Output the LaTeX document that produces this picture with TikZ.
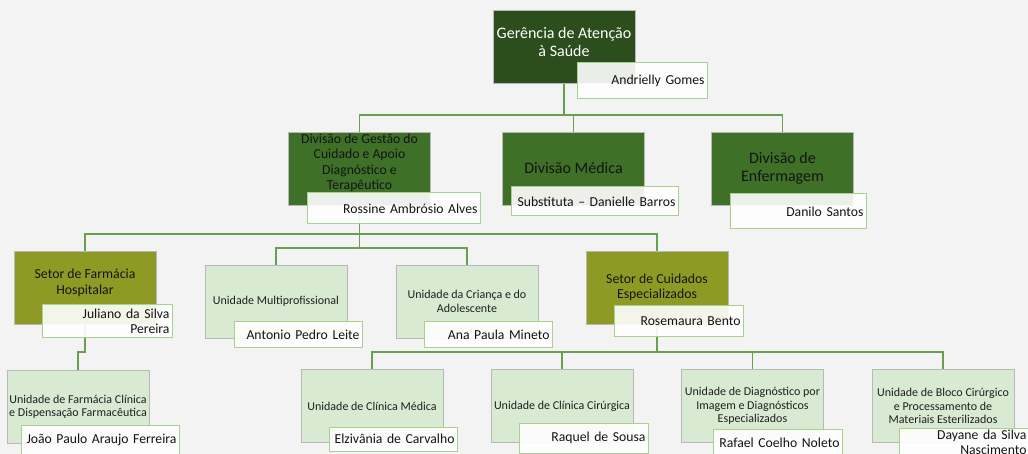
\documentclass[tikz,border=0pt]{standalone}
\usepackage{fontspec}
\setmainfont{Carlito}

\pgfdeclarelayer{background}
\pgfsetlayers{background,main}

\definecolor{bggrey}{HTML}{F3F3F3}
\definecolor{gergreen}{HTML}{2C4D1C}
\definecolor{divgreen}{HTML}{3E7028}
\definecolor{setorolive}{HTML}{8F9A25}
\definecolor{unitgreen}{HTML}{D9EAD3}
\definecolor{linegreen}{HTML}{69A050}
\definecolor{nameline}{HTML}{A9D08E}

\begin{document}
\begin{tikzpicture}[x=1pt, y=-1pt,
    orgbox/.style={draw=black!28, line width=0.7pt, minimum width=142pt,
        minimum height=73pt, inner sep=0pt, align=center},
    gerbox/.style={orgbox, fill=gergreen},
    gertext/.style={text=white, align=center, font=\fontsize{16}{18}\selectfont},
    divbox/.style={orgbox, fill=divgreen, text=black!92, font=\fontsize{16}{18}\selectfont},
    setorbox/.style={orgbox, fill=setorolive, text=black!92, font=\fontsize{13.8}{15.6}\selectfont},
    unitbox/.style={orgbox, fill=unitgreen, text=black!88, font=\fontsize{12}{13.3}\selectfont},
    namebox/.style 2 args={draw=nameline, line width=1pt, fill=white,
        fill opacity=0.9, text opacity=1, minimum width=#1, text width=#1-5,
        minimum height=#2, inner xsep=2.5pt, inner ysep=0pt, align=right,
        text=black!92, font=\fontsize{13.7}{15}\selectfont},
    conn/.style={draw=linegreen, line width=1.4pt}]

    % Background
    \begin{pgfonlayer}{background}
    \fill[bggrey] (0,0) rectangle (1028,454);
    \end{pgfonlayer}
    \useasboundingbox (0,0) rectangle (1028,454);

    % Gerencia
    \node[gerbox, label={[gertext, yshift=4.5pt]center:{Gerência de Atenção\\à Saúde}}] (ger) at (564,46.5) {};
    \node[namebox={130}{36}] (gername) at (642,81) {Andrielly Gomes};

    % Divisoes
    \node[divbox, label={[divbox, draw=none, fill=none, font=\fontsize{13.7}{15.4}\selectfont, yshift=5.5pt]center:{Divisão de Gestão do\\Cuidado e Apoio\\Diagnóstico e\\Terapêutico}}] (div1) at (359.5,168.5) {};
    \node[divbox] (med) at (573.5,168.5) {Divisão Médica};
    \node[divbox] (enf) at (782.5,168.5) {Divisão de\\Enfermagem};
    \node[namebox={173}{31}] (div1name) at (393.5,208.5) {Rossine Ambrósio Alves};
    \node[namebox={167}{29}] (medname) at (594.5,201.5) {Substituta – Danielle Barros};
    \node[namebox={136}{35}] (enfname) at (798,211.5) {Danilo Santos};

    % Setores e unidades
    \node[setorbox, label={[setorbox, draw=none, fill=none, yshift=4.5pt]center:{Setor de Farmácia\\Hospitalar}}] (farm) at (85,287.5) {};
    \node[unitbox] (multi) at (276,301.5) {Unidade Multiprofissional};
    \node[unitbox] (crian) at (467,301.5) {Unidade da Criança e do\\Adolescente};
    \node[setorbox] (cuid) at (657,287.5) {Setor de Cuidados\\Especializados};
    \node[namebox={130}{32}] (farmname) at (107,321) {Juliano da Silva\\Pereira};
    \node[namebox={128}{25}] (multiname) at (298,334.5) {Antonio Pedro Leite};
    \node[namebox={128}{25}] (crianname) at (488,334.5) {Ana Paula Mineto};
    \node[namebox={129}{30}] (cuidname) at (678.5,321) {Rosemaura Bento};

    % Unidades de baixo
    \node[unitbox] (farmclin) at (78,406.5) {Unidade de Farmácia Clínica\\e Dispensação Farmacêutica};
    \node[unitbox] (clinmed) at (372,406) {Unidade de Clínica Médica};
    \node[unitbox] (clincir) at (562,406) {Unidade de Clínica Cirúrgica};
    \node[unitbox] (diag) at (752.5,406) {Unidade de Diagnóstico por\\Imagem e Diagnósticos\\Especializados};
    \node[unitbox] (bloco) at (943,406) {Unidade de Bloco Cirúrgico\\e Processamento de\\Materiais Esterilizados};
    \node[namebox={158}{30}] (farmclinname) at (100,440) {João Paulo Araujo Ferreira};
    \node[namebox={128}{24}] (clinmedname) at (393,439) {Elzivânia de Carvalho};
    \node[namebox={129}{30}] (clincirname) at (583.5,438) {Raquel de Sousa};
    \node[namebox={129}{28}] (diagname) at (777.5,443) {Rafael Coelho Noleto};
    \node[namebox={130}{28}] (bloconame) at (964,442) {Dayane da Silva\\Nascimento};

    % Connectors
    \begin{pgfonlayer}{background}
    \coordinate (bus1) at (564,115);
    \coordinate (bus2) at (359.5,234);
    \coordinate (bus3) at (359.5,248);
    \coordinate (bus4) at (657,352);
    \coordinate (bus5) at (85,352);
    \draw[conn] (ger.south) -- (bus1) -| (div1.north);
    \draw[conn] (bus1) -| (med.north);
    \draw[conn] (bus1) -| (enf.north);
    \draw[conn] (div1.south) -- (bus2) -| (farm.north);
    \draw[conn] (bus2) -| (cuid.north);
    \draw[conn] (bus2) -- (bus3) -| (multi.north);
    \draw[conn] (bus3) -| (crian.north);
    \draw[conn] (farm.south) -- (bus5) -| (farmclin.north);
    \draw[conn] (cuid.south) -- (bus4) -| (clinmed.north);
    \draw[conn] (bus4) -| (clincir.north);
    \draw[conn] (bus4) -| (diag.north);
    \draw[conn] (bus4) -| (bloco.north);
    \end{pgfonlayer}
\end{tikzpicture}
\end{document}
